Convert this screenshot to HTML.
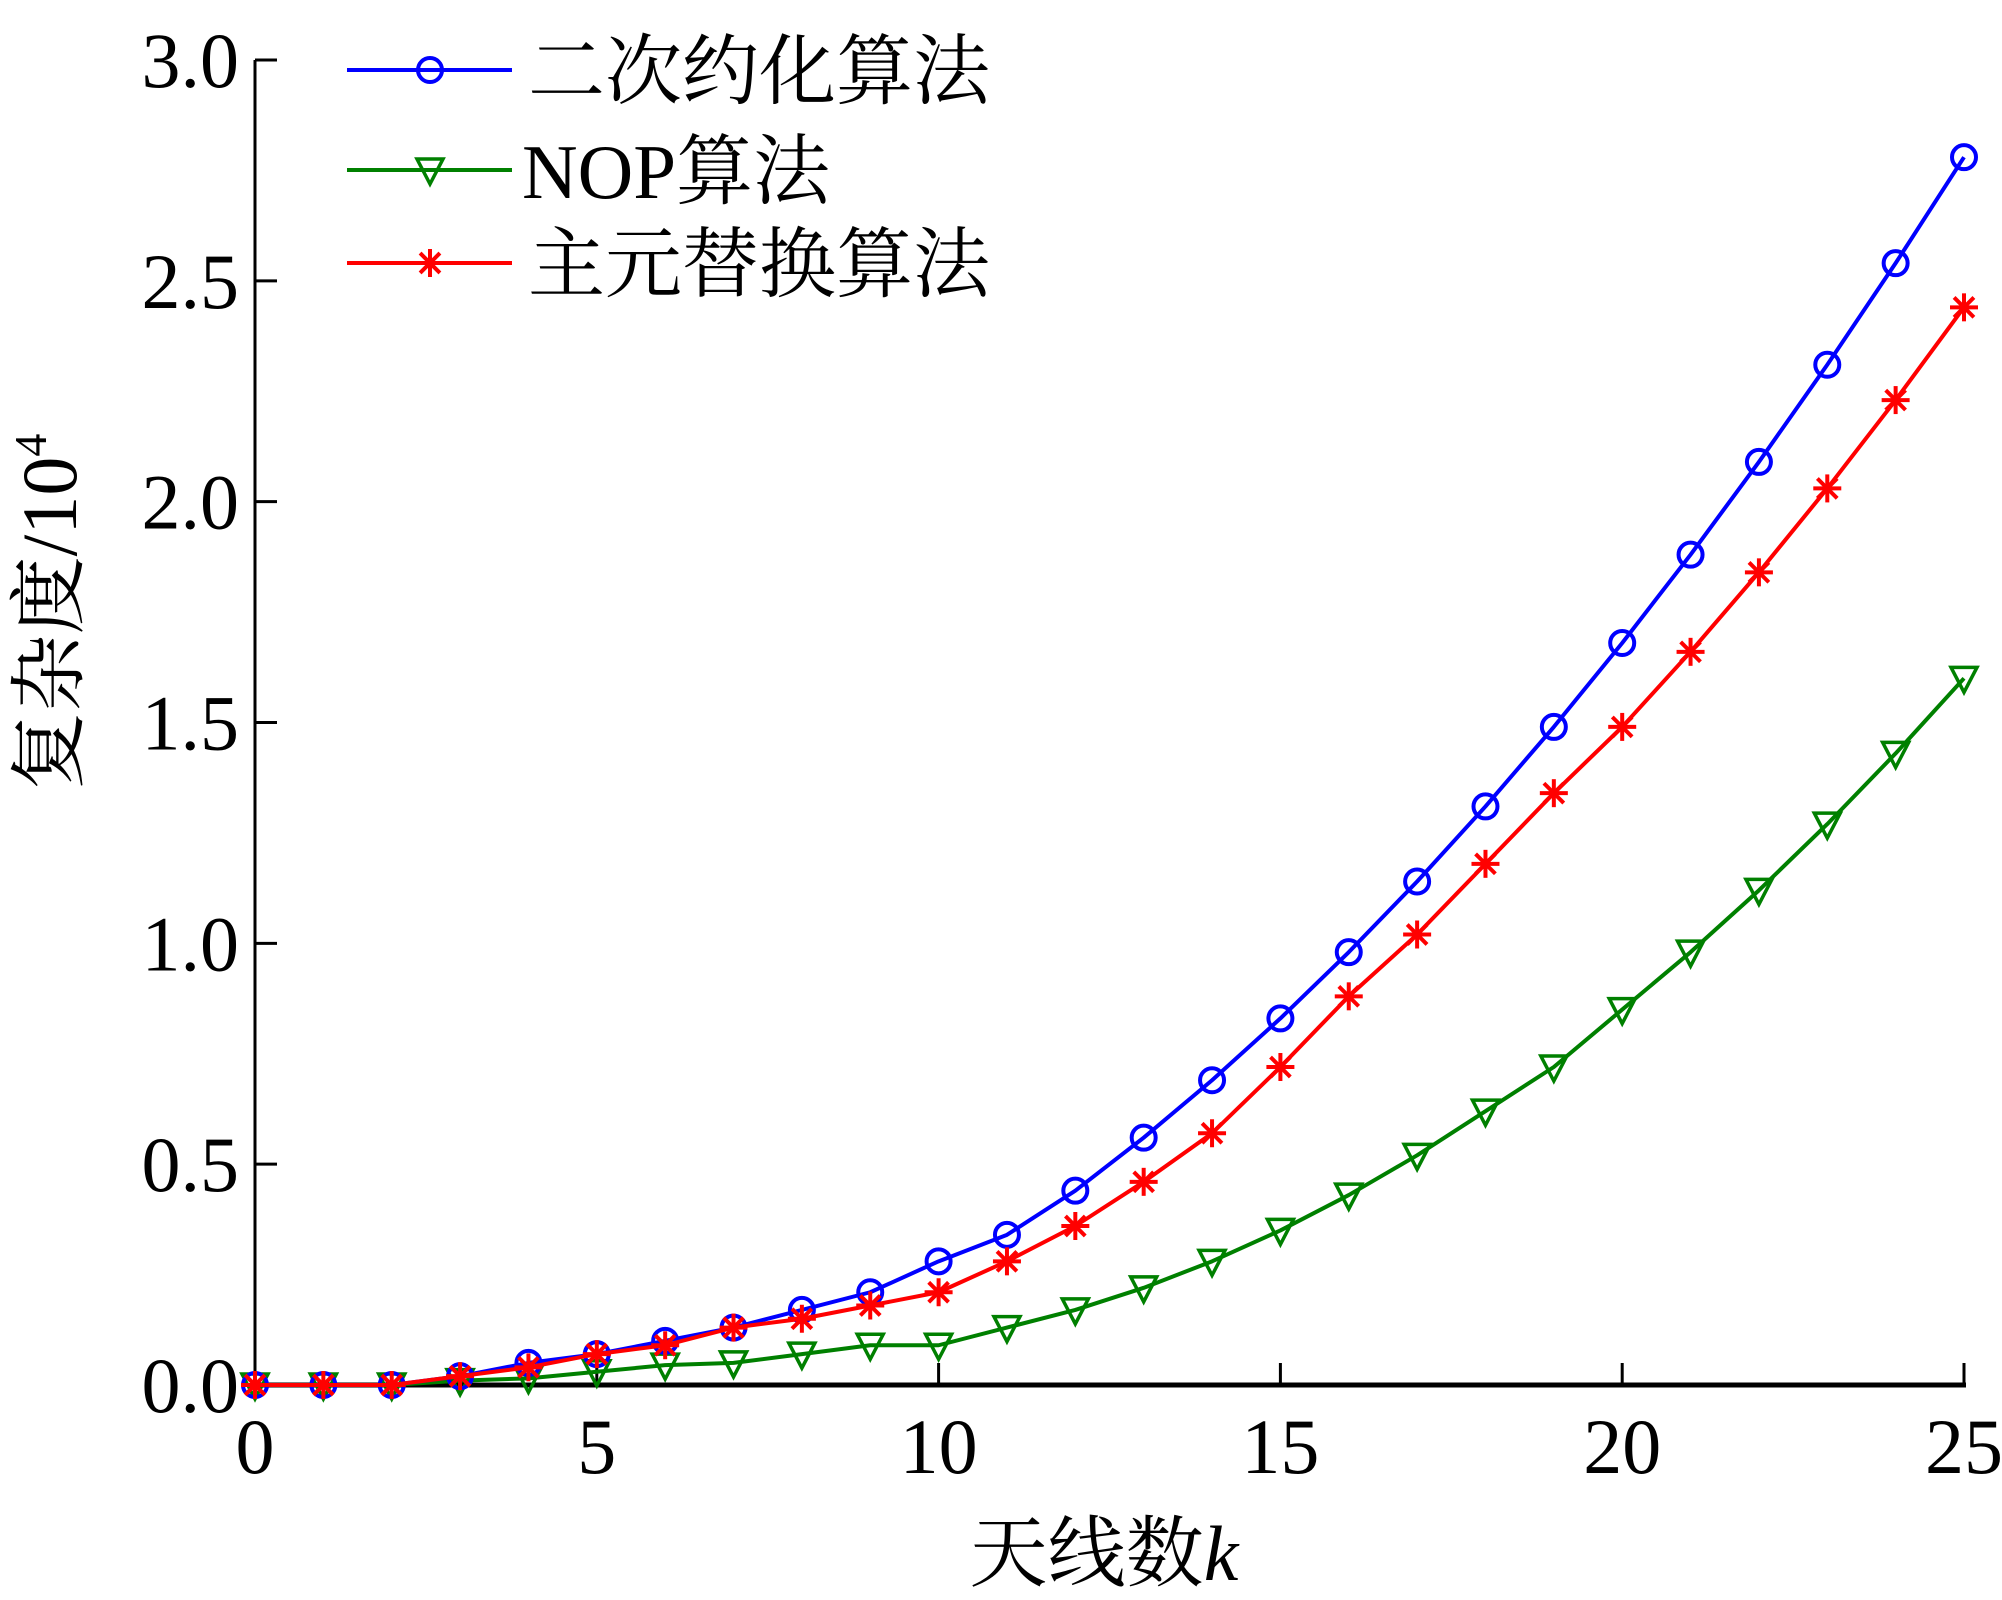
<!DOCTYPE html>
<html><head><meta charset="utf-8"><style>
html,body{margin:0;padding:0;background:#fff;}
svg{display:block;}
text{font-family:"Liberation Serif","Noto Serif CJK SC","Noto Sans CJK SC",serif;fill:#000;}
</style></head><body>
<svg id="chart" width="2002" height="1600" viewBox="0 0 2002 1600" xmlns="http://www.w3.org/2000/svg">
<g id="axes"></g>
<g id="series"></g>
<g id="legend"></g>
<text transform="translate(76,612) rotate(-90)" text-anchor="middle" font-size="78">复杂度/10<tspan font-size="46" dy="-30">4</tspan></text>
<text x="1104" y="1580" text-anchor="middle" font-size="78">天线数<tspan font-style="italic">k</tspan></text>
</svg>
<script>
const categories = [0,1,2,3,4,5,6,7,8,9,10,11,12,13,14,15,16,17,18,19,20,21,22,23,24,25];
const blueValues = [0,0,0,0.02,0.05,0.07,0.10,0.13,0.17,0.21,0.28,0.34,0.44,0.56,0.69,0.83,0.98,1.14,1.31,1.49,1.68,1.88,2.09,2.31,2.54,2.78];
const greenValues = [0,0,0,0.01,0.015,0.03,0.045,0.05,0.07,0.09,0.09,0.13,0.17,0.22,0.28,0.35,0.43,0.52,0.62,0.72,0.85,0.98,1.12,1.27,1.43,1.60];
const redValues = [0,0,0,0.02,0.04,0.07,0.09,0.13,0.15,0.18,0.21,0.28,0.36,0.46,0.57,0.72,0.88,1.02,1.18,1.34,1.49,1.66,1.84,2.03,2.23,2.44];
const xTicks = [0,5,10,15,20,25];
const yTicks = [0,0.5,1.0,1.5,2.0,2.5,3.0];
const yTickLabels = ["0.0","0.5","1.0","1.5","2.0","2.5","3.0"];
const legendLabels = ["二次约化算法","NOP算法","主元替换算法"];

const NS="http://www.w3.org/2000/svg";
const X0=255,X1=1964,Y0=1385,Y1=60;
function sx(v){return X0+(v-0)/(25-0)*(X1-X0);}
function sy(v){return Y0-(v-0)/(3-0)*(Y0-Y1);}
function mk(tag,attrs,parent){const e=document.createElementNS(NS,tag);for(const k in attrs)e.setAttribute(k,attrs[k]);parent.appendChild(e);return e;}

const axes=document.getElementById('axes');
let e=mk('line',{x1:X0,y1:Y0,x2:X1+2,y2:Y0,stroke:'#000','stroke-width':5},axes);


e=mk('line',{x1:X0,y1:Y0+2,x2:X0,y2:Y1,stroke:'#000','stroke-width':3},axes);


xTicks.forEach((t,i)=>{
  const tk=mk('line',{x1:sx(t),y1:Y0,x2:sx(t),y2:Y0-22,stroke:'#000','stroke-width':3},axes);
  
  
  const tl=mk('text',{x:sx(t),y:Y0+88,'text-anchor':'middle','font-size':78},axes);
  tl.textContent=String(t);
  
  
});
yTicks.forEach((t,i)=>{
  const tk=mk('line',{x1:X0,y1:sy(t),x2:X0+22,y2:sy(t),stroke:'#000','stroke-width':3},axes);
  
  
  const tl=mk('text',{x:X0-16,y:sy(t)+27,'text-anchor':'end','font-size':78},axes);
  tl.textContent=yTickLabels[i];
  
  
});

function marker(type,color,x,y,parent){
  let m;
  if(type==='circle'){m=mk('circle',{cx:x,cy:y,r:12,fill:'none',stroke:color,'stroke-width':4},parent);}
  else if(type==='tri'){m=mk('polygon',{points:`${x-13},${y-11} ${x+13},${y-11} ${x},${y+14}`,fill:'none',stroke:color,'stroke-width':3.5},parent);}
  else{m=mk('g',{stroke:color,'stroke-width':4},parent);
    for(let a=0;a<180;a+=45){const r=a*Math.PI/180;mk('line',{x1:x-14*Math.cos(r),y1:y-14*Math.sin(r),x2:x+14*Math.cos(r),y2:y+14*Math.sin(r)},m);}
  }
  return m;
}
const seriesDefs=[
  {vals:greenValues,color:'#008000',type:'tri',name:'nop'},
  {vals:blueValues,color:'#0000ff',type:'circle',name:'quadratic-reduction'},
  {vals:redValues,color:'#ff0000',type:'star',name:'pivot-replacement'}
];
const sg=document.getElementById('series');
seriesDefs.forEach(s=>{
  const g=mk('g',{},sg);
  
  
  const pts=categories.map((c,i)=>sx(c)+','+sy(s.vals[i])).join(' ');
  const pl=mk('polyline',{points:pts,fill:'none',stroke:s.color,'stroke-width':4,'stroke-linejoin':'round'},g);
  
  
  categories.forEach((c,i)=>{
    const m=marker(s.type,s.color,sx(c),sy(s.vals[i]),g);
    
    
  });
});

const lg=document.getElementById('legend');
const legendRows=[
  {y:70,color:'#0000ff',type:'circle',tx:528},
  {y:170,color:'#008000',type:'tri',tx:522},
  {y:263,color:'#ff0000',type:'star',tx:528}
];
legendRows.forEach((r,i)=>{
  const g=mk('g',{},lg);
  
  
  mk('line',{x1:347,y1:r.y,x2:512,y2:r.y,stroke:r.color,'stroke-width':4},g);
  marker(r.type,r.color,430,r.y,g);
  const t=mk('text',{x:r.tx,y:r.y+28,'font-size':77},g);
  t.textContent=legendLabels[i];
  
  
});
</script>
</body></html>
